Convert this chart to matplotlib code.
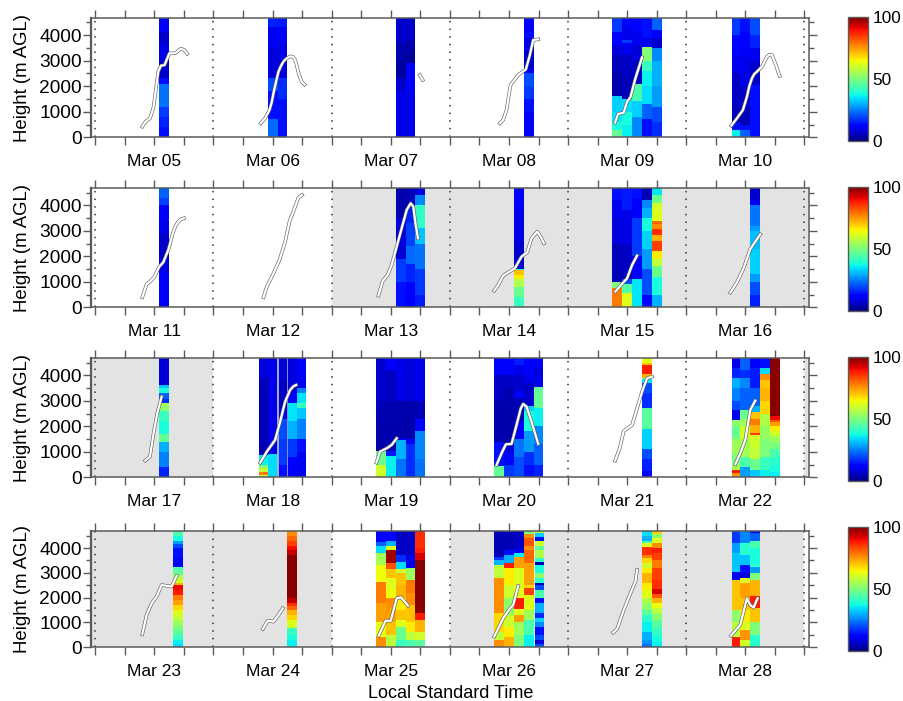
import matplotlib
matplotlib.use('Agg')
import numpy as np
from matplotlib import pyplot as plt
from matplotlib.cm import ScalarMappable
from matplotlib.colors import Normalize
from matplotlib.ticker import MultipleLocator

plt.rcParams['font.family'] = ['Liberation Sans', 'DejaVu Sans']

# each column is a list of (top of layer in m, value); edges are hours of the day
mar05_edges = [13, 15]
mar05_cols = [[(400,14),(800,16),(1200,18),(2100,24),(2300,14),(3000,7),(3700,9),(4100,7),(4700,12)]]
mar05_t = [9.54,10.22,11.1,11.78,12.05,12.32,12.79,13.33,14.08,14.6,15.03,16.18,17.39,18.07,18.68]
mar05_h = [417,612,743,1134,1500,1915,2567,2801,2828,3080,3284,3284,3466,3414,3258]

mar06_edges = [11.1, 13, 15]
mar06_cols = [[(700,23),(1800,14),(2300,20),(3500,8),(4300,10),(4700,16)],
              [(1500,14),(2300,17),(3000,8),(3700,9),(4300,11),(4700,15)]]
mar06_t = [9.61,10.49,11.37,11.8,12.18,12.7,13.2,13.7,14.2,14.7,15.2,15.7,16.1,16.5,16.8,17.1,17.4,17.9,18.5]
mar06_h = [547,743,1068,1350,1720,2170,2567,2790,2958,3060,3127,3165,3153,3050,2893,2650,2437,2176,2059]

mar07_edges = [13, 15, 17]
mar07_cols = [[(1800,9),(2300,7),(3000,3),(3700,4),(4700,7)],
              [(1800,10),(2900,11),(3300,3),(3800,4),(4700,7)]]
mar07_t = [17.87,18.48]
mar07_h = [2437,2241]

mar08_edges = [15, 17]
mar08_cols = [[(1000,12),(1500,14),(2000,18),(2500,20),(2700,10),(3400,7),(3500,13),(3900,9),(4100,14),(4500,11),(4700,13)]]
mar08_t = [10.15,10.83,11.5,12.32,13.87,15.43,16.24,16.92,17.94]
mar08_h = [547,678,1068,2046,2437,2658,3218,3805,3831]

mar09_edges = [9, 11, 13, 15, 17, 19]
mar09_cols = [[(300,47),(600,38),(1000,35),(1600,33),(2500,4),(3200,5),(3600,8),(4100,12),(4700,18)],
              [(500,36),(1000,38),(1500,34),(2400,5),(3200,6),(3700,10),(3800,18),(4300,10),(4700,13)],
              [(800,26),(1400,33),(2100,44),(3000,6),(3600,8),(4100,10),(4700,13)],
              [(700,14),(1300,22),(2000,34),(2600,36),(3000,42),(3550,51),(3900,10),(4700,14)],
              [(600,17),(1200,20),(2000,28),(3000,30),(3500,26),(3900,7),(4200,12),(4700,22)]]
mar09_t = [9.54,10.15,11.3,11.98,12.66,13.67,15.03]
mar09_h = [573,912,964,1394,1563,2306,3127]

mar10_edges = [9.3, 11, 13, 15]
mar10_cols = [[(300,36),(600,14),(1200,5),(2500,6),(3200,10),(4000,13),(4700,18)],
              [(300,22),(500,14),(1100,5),(2000,6),(2800,9),(3200,10),(4100,12),(4700,14)],
              [(2050,14),(3000,7),(3500,10),(4000,16),(4700,20)]]
mar10_t = [9.14,10.29,11.5,12.32,12.8,13.33,13.8,14.35,15.36,16.38,16.9,17.39,18.07,18.95]
mar10_h = [456,743,1068,1589,2000,2306,2470,2567,2762,3153,3235,3218,2893,2398]

mar11_edges = [13, 15]
mar11_cols = [[(500,12),(1400,11),(1900,9),(2900,7),(3400,10),(4000,11),(4300,19),(4700,22)]]
mar11_t = [9.54,10.42,11.1,11.91,13,13.81,14.82,15.84,16.3,16.85,17.4,18]
mar11_h = [392,902,1006,1163,1595,1764,2248,2967,3190,3359,3450,3490]

mar12_edges = []
mar12_cols = []
mar12_t = [10.15,10.83,12.18,13.4,14.55,15.43,16.58,17.26,18]
mar12_h = [392,810,1333,1856,2575,3359,3947,4300,4405]

mar13_edges = [13, 15, 17, 19]
mar13_cols = [[(1000,14),(1900,18),(2200,7),(3500,8),(4700,4)],
              [(1000,12),(1700,16),(2400,23),(3300,19),(3900,16),(4700,5)],
              [(500,15),(1500,18),(2500,24),(3100,32),(4000,41),(4400,26),(4700,8)]]
mar13_t = [9.48,10.36,11.37,12.18,13.2,14.21,15.23,16.04,16.58,17.06,17.53]
mar13_h = [457,1032,1268,1660,2379,3098,3817,4078,3947,3228,2705]

mar14_edges = [13, 15]
mar14_cols = [[(400,42),(800,48),(1100,56),(1250,66),(1450,70),(1500,40),(2600,7),(3800,9),(4700,12)]]
mar14_t = [9,9.81,10.83,13.2,14.55,15.7,16.58,17.73,18.41,19.09]
mar14_h = [653,876,1242,1529,1987,2157,2705,2967,2771,2509]

mar15_edges = [9, 11, 13, 15, 17, 19]
mar15_cols = [[(750,78),(1000,50),(2500,5),(3500,8),(4200,10),(4700,14)],
              [(550,62),(900,45),(1100,20),(2500,6),(3800,9),(4700,15)],
              [(1100,35),(2000,12),(3500,18),(4300,12),(4700,14)],
              [(500,13),(1500,20),(2300,28),(3000,33),(3500,38),(3900,30),(4200,26),(4700,5)],
              [(500,30),(1200,38),(1600,48),(1900,58),(2200,66),(2600,84),(2850,72),(3050,86),(3250,76),(3400,80),(3800,62),(4100,60),(4400,48),(4700,35)]]
mar15_t = [9.61,10.63,11.98,13,14.01]
mar15_h = [614,850,1137,1660,2026]

mar16_edges = [13, 15]
mar16_cols = [[(500,16),(1000,20),(1300,28),(2300,33),(3000,31),(3200,28),(4000,24),(4200,10),(4700,7)]]
mar16_t = [8.93,10.29,11.64,13,15.03]
mar16_h = [575,980,1529,2287,2862]

mar17_edges = [13, 15]
mar17_cols = [[(400,16),(1000,25),(1400,30),(1700,47),(2200,38),(2600,42),(2800,52),(2900,55),(3050,17),(3300,22),(3500,38),(3600,32),(4700,8)]]
mar17_t = [10.15,11.1,11.78,12.59,13.47]
mar17_h = [653,810,1660,2509,3163]

mar18_edges = [9.3, 11, 13, 15, 17, 18.8]
mar18_cols = [[(100,60),(200,78),(350,58),(500,50),(880,36),(3900,5),(4700,8)],
              [(900,34),(4700,9)],
              [(500,14),(1500,18),(2300,20),(2700,10),(3800,6),(4700,8)],
              [(800,12),(1500,18),(2200,30),(2900,35),(3300,12),(4700,8)],
              [(1000,10),(1500,14),(2300,25),(2700,32),(2900,42),(3300,35),(3500,25),(4000,10),(4700,12)]]
mar18_t = [9.48,10.83,12.52,13.54,14.55,15.57,16.2,16.79]
mar18_h = [575,1006,1464,2183,2967,3424,3560,3620]

mar19_edges = [9, 11, 13, 15, 17, 19]
mar19_cols = [[(480,60),(1050,48),(2200,4),(3000,5),(4700,7)],
              [(850,36),(1050,15),(3000,4),(4200,6),(4700,11)],
              [(700,24),(1450,30),(1550,10),(3000,4),(4700,9)],
              [(600,17),(1300,17),(1500,12),(3000,4),(4700,8)],
              [(700,24),(1800,26),(2300,13),(3000,5),(4700,9)]]
mar19_t = [9.07,9.81,11.17,12.18,13.2]
mar19_h = [575,1006,1137,1268,1529]

mar20_edges = [9, 11, 13, 15, 17, 19]
mar20_cols = [[(450,47),(1400,14),(3000,4),(4000,6),(4700,11)],
              [(500,18),(1000,13),(1300,8),(3500,4),(4000,6),(4700,11)],
              [(800,20),(1500,24),(2200,12),(3100,5),(3400,12),(4000,7),(4400,9),(4700,15)],
              [(500,14),(1000,17),(1800,28),(2600,38),(2800,33),(3200,7),(3700,6),(4000,10),(4700,11)],
              [(500,16),(1300,22),(2000,26),(2700,36),(3550,47),(4000,10),(4300,8),(4700,11)]]
mar20_t = [9.48,10.49,11.37,12.52,13.54,14.4,14.89,15.57,16.58,17.94]
mar20_h = [484,941,1294,1307,2052,2700,2875,2771,2183,1307]

mar21_edges = [15, 17]
mar21_cols = [[(250,11),(700,16),(1100,20),(1900,33),(2700,46),(3300,17),(3700,20),(3850,35),(3900,55),(4050,72),(4400,88),(4500,70),(4700,63)]]
mar21_t = [9.54,10.49,11.3,13,14.01,15.03,16.04,17.06]
mar21_h = [653,1137,1817,2052,2705,3359,3882,3947]

mar22_edges = [9.2, 11, 13, 15, 17, 19]
mar22_cols = [[(150,75),(300,88),(500,55),(900,50),(1500,54),(2000,48),(2250,52),(2650,10),(3000,20),(3500,25),(3900,30),(4300,16),(4700,9)],
              [(400,28),(800,44),(1500,55),(2000,60),(2300,54),(2650,48),(3500,22),(3900,26),(4200,17),(4700,22)],
              [(300,32),(700,48),(1200,58),(1650,60),(1750,85),(2050,72),(2300,78),(2550,70),(2800,30),(3500,22),(4300,15),(4700,12)],
              [(300,36),(800,42),(1500,50),(2000,53),(2500,56),(3000,68),(3500,72),(3800,70),(4050,76),(4300,34),(4700,14)],
              [(200,36),(500,38),(800,40),(1100,44),(1400,50),(1600,54),(1800,60),(2000,66),(2150,74),(2250,82),(2400,90),(4700,99)]]
mar22_t = [9.95,10.96,11.98,12.66,13,14.01]
mar22_h = [510,941,1464,2248,2640,3006]

mar23_edges = [15.85, 17.85]
mar23_cols = [[(150,34),(300,36),(500,42),(700,46),(900,50),(1100,54),(1300,59),(1500,62),(1700,68),(1900,74),(2100,78),(2300,88),(2500,90),(2600,72),(2750,60),(2900,56),(3100,47),(3250,44),(3600,12),(4000,14),(4150,20),(4300,28),(4500,38),(4700,44)]]
mar23_t = [9.54,10.42,11.44,12.45,13.47,15.5,16.51]
mar23_h = [524,1303,1773,2041,2511,2444,2874]

mar24_edges = [15, 17]
mar24_cols = [[(300,36),(500,38),(770,42),(900,60),(1100,62),(1300,68),(1500,72),(1650,80),(1800,86),(2000,94),(3700,99),(3900,94),(4100,90),(4300,84),(4500,80),(4700,76)]]
mar24_t = [10.02,11.03,12.18,13.2,14.08]
mar24_h = [739,1074,1034,1303,1571]

mar25_edges = [9, 11, 13, 15, 17, 19]
mar25_cols = [[(430,76),(1000,63),(1800,74),(2650,78),(3300,64),(3800,55),(4100,34),(4250,22),(4700,11)],
              [(500,58),(1000,70),(1600,74),(2000,76),(2300,64),(2800,62),(3150,70),(3400,82),(3900,97),(4100,62),(4300,30),(4700,13)],
              [(300,42),(800,48),(1100,62),(1500,70),(2000,66),(2500,72),(3000,70),(3150,60),(3450,34),(3700,17),(4700,6)],
              [(300,44),(600,58),(1000,66),(1700,70),(2200,76),(2700,78),(3200,54),(3700,10),(4700,6)],
              [(300,46),(600,60),(1100,72),(1400,88),(3500,99),(3800,92),(4000,88),(4700,86)]]
mar25_t = [9.54,10.96,11.98,13.2,14.08,15.5]
mar25_h = [470,1074,1061,1974,2014,1679]

mar26_edges = [8.93, 10.96, 13, 15.03, 17, 17.26, 19.2]
mar26_cols = [[(300,76),(600,58),(1400,68),(2780,76),(3320,58),(3500,30),(3650,18),(4700,5)],
              [(400,72),(800,66),(1300,60),(2000,52),(2500,60),(3200,66),(3400,88),(3700,30),(3900,14),(4700,5)],
              [(500,50),(1000,54),(1300,74),(1550,62),(2000,88),(2500,62),(3200,62),(3650,74),(3800,36),(4000,10),(4700,6)],
              [(500,36),(1100,44),(1500,54),(2100,62),(2400,84),(2500,68),(3400,74),(3900,80),(4100,76),(4400,82),(4550,76),(4700,50)],
              None,
              [(150,20),(300,8),(500,20),(800,14),(1000,26),(1200,33),(1400,17),(1800,30),(2000,14),(2300,44),(2500,20),(2600,4),(2800,40),(3000,52),(3300,38),(3450,5),(3600,40),(3900,56),(4100,46),(4300,60),(4450,14),(4600,33),(4700,56)]]
mar26_t = [9,10.83,12.05,12.86,13.87]
mar26_h = [430,1168,1531,1706,2471]

mar27_edges = [15, 17, 19]
mar27_cols = [[(150,24),(300,27),(600,30),(1000,36),(1300,40),(1500,46),(1800,52),(2000,56),(2300,62),(2600,66),(3000,72),(3200,66),(3400,60),(3600,68),(3720,78),(4050,86),(4200,62),(4300,44),(4500,30),(4700,34)],
              [(200,36),(500,38),(800,42),(1100,46),(1400,52),(1600,58),(1800,64),(2000,72),(2150,82),(2350,92),(2700,86),(3200,84),(3500,78),(3800,84),(4000,88),(4200,76),(4400,62),(4550,52),(4700,68)]]
mar27_t = [9.14,9.95,11.3,12.66,13.67,14.01]
mar27_h = [591,739,1504,2176,2646,3116]

mar28_edges = [9.2, 11, 13, 15]
mar28_cols = [[(430,88),(1000,58),(1500,52),(2700,70),(3050,10),(3800,32),(4200,28),(4500,18),(4700,18)],
              [(300,60),(700,75),(1000,62),(1500,66),(2000,70),(2600,74),(2800,62),(3000,8),(3300,14),(3700,32),(4200,40),(4700,26)],
              [(500,40),(1000,50),(1600,70),(2050,88),(2700,72),(3000,50),(3250,28),(3350,40),(4000,38),(4300,44),(4600,22),(4700,12)]]
mar28_t = [9.07,10.96,12.32,13.0,13.67,14.48]
mar28_h = [470,900,1974,1700,1598,1974]

days = [('Mar 05',mar05_edges,mar05_cols,mar05_t,mar05_h),('Mar 06',mar06_edges,mar06_cols,mar06_t,mar06_h),
        ('Mar 07',mar07_edges,mar07_cols,mar07_t,mar07_h),('Mar 08',mar08_edges,mar08_cols,mar08_t,mar08_h),
        ('Mar 09',mar09_edges,mar09_cols,mar09_t,mar09_h),('Mar 10',mar10_edges,mar10_cols,mar10_t,mar10_h),
        ('Mar 11',mar11_edges,mar11_cols,mar11_t,mar11_h),('Mar 12',mar12_edges,mar12_cols,mar12_t,mar12_h),
        ('Mar 13',mar13_edges,mar13_cols,mar13_t,mar13_h),('Mar 14',mar14_edges,mar14_cols,mar14_t,mar14_h),
        ('Mar 15',mar15_edges,mar15_cols,mar15_t,mar15_h),('Mar 16',mar16_edges,mar16_cols,mar16_t,mar16_h),
        ('Mar 17',mar17_edges,mar17_cols,mar17_t,mar17_h),('Mar 18',mar18_edges,mar18_cols,mar18_t,mar18_h),
        ('Mar 19',mar19_edges,mar19_cols,mar19_t,mar19_h),('Mar 20',mar20_edges,mar20_cols,mar20_t,mar20_h),
        ('Mar 21',mar21_edges,mar21_cols,mar21_t,mar21_h),('Mar 22',mar22_edges,mar22_cols,mar22_t,mar22_h),
        ('Mar 23',mar23_edges,mar23_cols,mar23_t,mar23_h),('Mar 24',mar24_edges,mar24_cols,mar24_t,mar24_h),
        ('Mar 25',mar25_edges,mar25_cols,mar25_t,mar25_h),('Mar 26',mar26_edges,mar26_cols,mar26_t,mar26_h),
        ('Mar 27',mar27_edges,mar27_cols,mar27_t,mar27_h),('Mar 28',mar28_edges,mar28_cols,mar28_t,mar28_h)]

# grey (hours from the start of each row)
grey_spans = [[], [(48,146)], [(-1,24),(144,146)], [(-1,48),(72,144)]]
# thin gaps in Mar 18 (hours of the day)
mar18_gaps = [13, 15]

W, H = 904, 701
fig = plt.figure(figsize=(W/100, H/100), dpi=100)
panel_px = [(18,137.3), (188.3,307.3), (358.3,477.3), (531,647.3)]
cbar_px = [(16.7,141), (186.7,311), (356.7,481), (527,651)]
ymaxs = [4665, 4665, 4665, 4685]
spine_c = '#5a5a5a'
norm = Normalize(0, 100)

for p in range(4):
    top, bot = panel_px[p]
    ax = fig.add_axes([91/W, 1-bot/H, (809.3-91)/W, (bot-top)/H])
    ax.set_xlim(-0.87, 144.98)
    ax.set_ylim(0, ymaxs[p])
    for a, b in grey_spans[p]:
        ax.axvspan(a, b, color='#e3e3e3', lw=0, zorder=0)
    for d in range(7):
        ax.axvline(d*24, color='#333333', lw=1.1, ls=(0,(1,4)), zorder=1)
    labels = []
    for d in range(6):
        name, edges, cols, t, h = days[p*6+d]
        x0 = d*24
        for k, col in enumerate(cols):
            if col is None:
                continue
            tops = [c[0] for c in col]
            vals = [c[1] for c in col]
            ax.pcolormesh([x0+edges[k], x0+edges[k+1]], [0]+tops, np.array(vals)[:,None],
                          cmap='jet', norm=norm, zorder=2)
        xs = np.array(t)+x0
        ax.plot(xs, h, color='#606060', lw=2.5, zorder=3, solid_joinstyle='round')
        ax.plot(xs, h, color='white', lw=1.6, zorder=4, solid_joinstyle='round')
        labels += ['', '', name, '']
    if p == 2:
        ax.vlines([24+g for g in mar18_gaps], 0, ymaxs[p], colors=['#a9aedb','#8b90c8'], lw=[1.4,0.7], zorder=2.5)
    labels.append('')
    ax.set_xticks(np.arange(0, 145, 6))
    ax.set_xticklabels(labels, fontsize=12.5)
    ax.tick_params(axis='x', direction='out', top=True, bottom=True, length=5.8, width=1, color=spine_c, pad=6)
    ax.set_yticks([0, 1000, 2000, 3000, 4000])
    ax.yaxis.set_minor_locator(MultipleLocator(500))
    ax.tick_params(axis='y', which='major', direction='out', left=True, right=True, length=5.8, width=1, color=spine_c, labelsize=13.8, pad=1)
    ax.tick_params(axis='y', which='minor', direction='out', left=True, right=True, length=3.4, width=1, color=spine_c)
    ax.set_ylabel('Height (m AGL)', fontsize=13.4)
    ax.yaxis.set_label_coords((31-91)/(809.3-91), 0.5)
    for s in ax.spines.values():
        s.set_color(spine_c)
        s.set_linewidth(1.1)
    ax.spines['left'].set_linewidth(1.6)

    ctop, cbot = cbar_px[p]
    cax = fig.add_axes([847.7/W, 1-cbot/H, (868.3-847.7)/W, (cbot-ctop)/H])
    cb = fig.colorbar(ScalarMappable(norm=norm, cmap='jet'), cax=cax, ticks=[0, 50, 100])
    cb.ax.tick_params(length=0, labelsize=12.4, pad=3)
    cb.outline.set_edgecolor(spine_c)
    cb.outline.set_linewidth(1)

fig.text(451/W, 1-693/H, 'Local Standard Time', ha='center', va='center', fontsize=13)
fig.savefig('out.png', dpi=100)
